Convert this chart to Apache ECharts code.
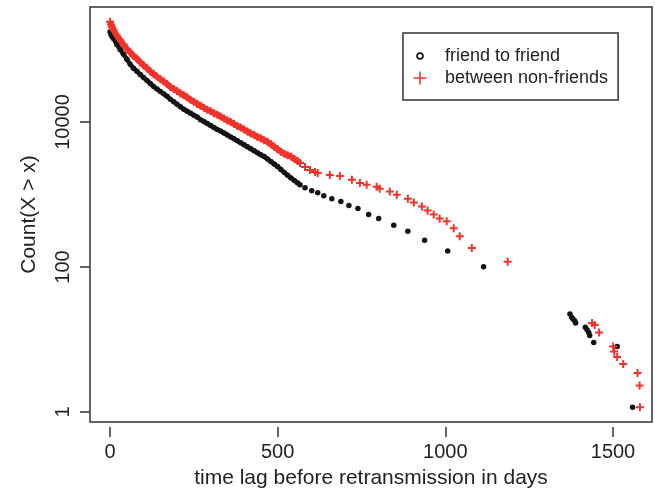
<!DOCTYPE html>
<html>
<head>
<meta charset="utf-8">
<script src="https://cdn.jsdelivr.net/npm/echarts@6/dist/echarts.min.js"></script>
<style>
  html, body { margin: 0; padding: 0; background: #fff; }
  #chart { width: 655px; height: 494px; }
</style>
</head>
<body>
<div id="chart"></div>
<script>
// days sampled along the dense part of both curves
const denseDays = [0, 3, 6, 10, 20, 30, 40, 50, 60, 70, 80, 90, 100, 110, 120, 130, 140, 150, 160, 170, 180, 190,
  200, 210, 220, 230, 240, 250, 260, 270, 280, 290, 300, 310, 320, 330, 340, 350, 360, 370, 380, 390,
  400, 410, 420, 430, 440, 450, 460, 470, 480, 490, 500, 510, 520, 530, 540, 550, 560];
const friendDense = [174200, 158000, 148600, 139600, 115400, 98400, 84000, 71600, 61100, 53800, 48900, 43800,
  39800, 36200, 32900, 29900, 27600, 25500, 23600, 21800, 19800, 18300, 16900, 15600, 14400, 13500, 12700,
  11900, 11200, 10300, 9690, 9100, 8530, 8000, 7510, 7160, 6720, 6310, 5920, 5560, 5220, 4890, 4590, 4310,
  4040, 3800, 3560, 3340, 3140, 2900, 2680, 2470, 2280, 2080, 1890, 1720, 1580, 1460, 1350];
const nonFriendDense = [239500, 217800, 201000, 185800, 153500, 133100, 115400, 100000, 89500, 80000, 72800,
  65200, 59200, 53800, 48900, 44500, 41100, 37900, 35100, 32400, 29400, 27600, 25900, 23900, 22500, 21100,
  19500, 18300, 17100, 16100, 15100, 14200, 13500, 12700, 12100, 11400, 10700, 10000, 9530, 8950, 8400, 8000,
  7510, 7050, 6620, 6310, 5920, 5650, 5300, 5050, 4670, 4310, 3980, 3680, 3450, 3290, 3140, 2900, 2720];

// sparse tails
const friendTailDays = [567, 582, 602, 620, 638, 662, 689, 713, 740, 772, 802, 847, 889, 939, 1008, 1115,
  1373, 1378, 1382, 1387, 1390, 1419, 1424, 1429, 1432, 1444, 1514, 1560];
const friendTailCounts = [1270, 1150, 1050, 984, 895, 813, 740, 652, 592, 490, 431, 345, 285, 214, 151, 91,
  20, 18, 17, 16, 15, 13, 12, 11, 10, 8, 7, 1];
const nonFriendTailDays = [567, 582, 597, 612, 620, 656, 686, 722, 746, 766, 796, 805, 835, 856, 889, 907,
  931, 948, 966, 984, 1005, 1026, 1044, 1080, 1187, 1439, 1447, 1460, 1502, 1505, 1514, 1532, 1575, 1581, 1582];
const nonFriendTailCounts = [2550, 2250, 2040, 1920, 1860, 1740, 1690, 1490, 1350, 1270, 1190, 1120, 1020, 925,
  813, 716, 631, 556, 490, 431, 392, 314, 243, 166, 107, 15, 14, 11, 7, 6, 5, 4, 3, 2, 1];

function pairs(xs, ys) {
  return xs.map((x, i) => [x, ys[i]]);
}

const font = "'Liberation Sans', Arial, Helvetica, sans-serif";
const ink = '#222';
const black = '#141414';
const red = '#f2332b';
const plusIcon = 'path://M3.75,0H6.25V3.75H10V6.25H6.25V10H3.75V6.25H0V3.75H3.75Z';
const legendRing = 'path://M0,0M24,14M15.8,7A3.8,3.8,0,1,1,8.2,7A3.8,3.8,0,1,1,15.8,7ZM14.1,7A2.1,2.1,0,1,0,9.9,7A2.1,2.1,0,1,0,14.1,7Z';
const legendPlus = 'path://M0,0M24,14M11.2,0.5H12.8V6.2H18.5V7.8H12.8V13.5H11.2V7.8H5.5V6.2H11.2Z';

const chart = echarts.init(document.getElementById('chart'));

let option = {
  animation: false,
  backgroundColor: '#fff',
  grid: [
    // plotting area with the box
    { left: 90, right: 3, top: 7, bottom: 67, show: true, borderColor: '#333', borderWidth: 1.5 },
    // x ticks 0..1500
    { left: 110, right: 42, top: 7, bottom: 67, show: false },
    // y ticks 1..10000
    { left: 90, right: 3, top: 122, bottom: 82, show: false }
  ],
  legend: {
    left: 403,
    top: 33,
    orient: 'vertical',
    padding: [13, 10, 12, 5],
    itemGap: 2,
    itemWidth: 24,
    itemHeight: 14,
    borderColor: '#333',
    borderWidth: 1.5,
    selectedMode: false,
    textStyle: { fontFamily: font, fontSize: 18, lineHeight: 20, color: ink, padding: [0, 0, 0, 8] },
    data: [
      { name: 'friend to friend', icon: legendRing },
      { name: 'between non-friends', icon: legendPlus }
    ]
  },
  xAxis: [
    {
      gridIndex: 0, type: 'value', min: -60, max: 1618,
      axisLine: { show: false }, axisTick: { show: false }, axisLabel: { show: false }, splitLine: { show: false },
      name: 'time lag before retransmission in days', nameLocation: 'middle', nameGap: 46,
      nameTextStyle: { fontFamily: font, fontSize: 21, color: ink }
    },
    {
      gridIndex: 1, type: 'value', min: 0, max: 1500, interval: 500,
      axisLine: { show: false, onZero: false },
      axisTick: { show: true, inside: false, length: 10, lineStyle: { color: '#333', width: 1.5 } },
      axisLabel: { fontFamily: font, fontSize: 20, color: ink, margin: 15, formatter: v => String(v) },
      splitLine: { show: false }
    },
    { gridIndex: 2, type: 'value', show: false }
  ],
  yAxis: [
    {
      gridIndex: 0, type: 'log', logBase: 10, min: 0.62, max: 385000,
      axisLine: { show: false }, axisTick: { show: false }, axisLabel: { show: false }, splitLine: { show: false },
      name: 'Count(X > x)', nameLocation: 'middle', nameGap: 50, nameRotate: 90,
      nameTextStyle: { fontFamily: font, fontSize: 21, color: ink }
    },
    { gridIndex: 1, type: 'value', show: false },
    {
      gridIndex: 2, type: 'log', logBase: 100, min: 1, max: 10000,
      axisLine: { show: false },
      axisTick: { show: true, inside: false, length: 10, lineStyle: { color: '#333', width: 1.5 } },
      axisLabel: {
        fontFamily: font, fontSize: 20, color: ink, rotate: 90, margin: 17,
        formatter: v => String(Math.round(v))
      },
      splitLine: { show: false }
    }
  ],
  series: [
    {
      name: 'friend to friend',
      type: 'line',
      xAxisIndex: 0, yAxisIndex: 0,
      showSymbol: false,
      lineStyle: { color: black, width: 4.5 },
      itemStyle: { color: black },
      data: pairs(denseDays, friendDense)
    },
    {
      name: 'friend to friend',
      type: 'scatter',
      xAxisIndex: 0, yAxisIndex: 0,
      symbol: 'circle',
      symbolSize: 5.5,
      itemStyle: { color: black, opacity: 1 },
      data: pairs(denseDays, friendDense).concat(pairs(friendTailDays, friendTailCounts))
    },
    {
      name: 'between non-friends',
      type: 'line',
      xAxisIndex: 0, yAxisIndex: 0,
      showSymbol: false,
      lineStyle: { color: red, width: 6 },
      itemStyle: { color: red },
      data: pairs(denseDays, nonFriendDense)
    },
    {
      name: 'between non-friends',
      type: 'scatter',
      xAxisIndex: 0, yAxisIndex: 0,
      symbol: plusIcon,
      symbolSize: 8,
      itemStyle: { color: red, opacity: 1 },
      data: pairs(denseDays, nonFriendDense).concat(pairs(nonFriendTailDays, nonFriendTailCounts))
    }
  ]
};

chart.setOption(option);
</script>
</body>
</html>
